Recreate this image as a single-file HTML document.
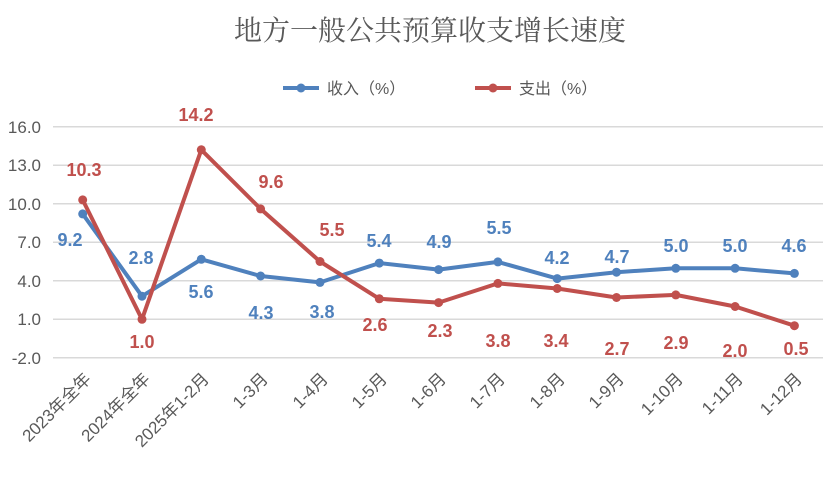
<!DOCTYPE html>
<html><head><meta charset="utf-8"><style>
body{margin:0;background:#fff;width:827px;height:473px;overflow:hidden}
svg text{font-family:"Liberation Sans","Noto Sans CJK SC",sans-serif}
</style></head><body>
<svg width="827" height="473" xmlns="http://www.w3.org/2000/svg">
<text x="430" y="40" text-anchor="middle" font-size="28" fill="#595959" style="font-family:'Noto Serif CJK SC',serif">地方一般公共预算收支增长速度</text>
<line x1="283" y1="88" x2="319" y2="88" stroke="#4f81bd" stroke-width="4"/><circle cx="301" cy="88" r="4.5" fill="#4f81bd"/>
<text x="327" y="94" font-size="16" fill="#595959">收入（%）</text>
<line x1="475" y1="88" x2="511" y2="88" stroke="#c0504d" stroke-width="4"/><circle cx="493" cy="88" r="4.5" fill="#c0504d"/>
<text x="519" y="94" font-size="16" fill="#595959">支出（%）</text>
<g stroke="#d9d9d9" stroke-width="1.5">
<line x1="53" x2="823" y1="126.7" y2="126.7"/><line x1="53" x2="823" y1="165.2" y2="165.2"/><line x1="53" x2="823" y1="203.7" y2="203.7"/><line x1="53" x2="823" y1="242.3" y2="242.3"/><line x1="53" x2="823" y1="280.8" y2="280.8"/><line x1="53" x2="823" y1="319.3" y2="319.3"/><line x1="53" x2="823" y1="357.8" y2="357.8"/>
</g>
<g font-size="17" fill="#595959" text-anchor="end">
<text x="41" y="133">16.0</text><text x="41" y="171">13.0</text><text x="41" y="210">10.0</text><text x="41" y="248">7.0</text><text x="41" y="287">4.0</text><text x="41" y="325">1.0</text><text x="41" y="364">-2.0</text>
</g>
<g font-size="17" fill="#595959" text-anchor="end" font-family="Noto Sans CJK SC, sans-serif">
<text transform="translate(92,380) rotate(-45)">2023年全年</text>
<text transform="translate(151,380) rotate(-45)">2024年全年</text>
<text transform="translate(210,380) rotate(-45)">2025年1-2月</text>
<text transform="translate(269,380) rotate(-45)">1-3月</text>
<text transform="translate(329,380) rotate(-45)">1-4月</text>
<text transform="translate(388,380) rotate(-45)">1-5月</text>
<text transform="translate(447,380) rotate(-45)">1-6月</text>
<text transform="translate(506,380) rotate(-45)">1-7月</text>
<text transform="translate(566,380) rotate(-45)">1-8月</text>
<text transform="translate(625,380) rotate(-45)">1-9月</text>
<text transform="translate(684,380) rotate(-45)">1-10月</text>
<text transform="translate(744,380) rotate(-45)">1-11月</text>
<text transform="translate(803,380) rotate(-45)">1-12月</text>
</g>
<polyline fill="none" stroke="#4f81bd" stroke-width="4" stroke-linejoin="round" points="82.7,213.9 142,296.2 201.3,259.3 260.6,276 320,282.4 379.3,263.1 438.6,269.6 497.9,261.9 557.2,278.6 616.5,272.2 675.8,268.3 735.1,268.3 794.4,273.4"/>
<g fill="#4f81bd"><circle cx="82.7" cy="213.9" r="4.5"/><circle cx="142" cy="296.2" r="4.5"/><circle cx="201.3" cy="259.3" r="4.5"/><circle cx="260.6" cy="276" r="4.5"/><circle cx="320" cy="282.4" r="4.5"/><circle cx="379.3" cy="263.1" r="4.5"/><circle cx="438.6" cy="269.6" r="4.5"/><circle cx="497.9" cy="261.9" r="4.5"/><circle cx="557.2" cy="278.6" r="4.5"/><circle cx="616.5" cy="272.2" r="4.5"/><circle cx="675.8" cy="268.3" r="4.5"/><circle cx="735.1" cy="268.3" r="4.5"/><circle cx="794.4" cy="273.4" r="4.5"/></g>
<polyline fill="none" stroke="#c0504d" stroke-width="4" stroke-linejoin="round" points="82.7,199.9 142,319.3 201.3,149.8 260.6,208.9 320,261.5 379.3,298.8 438.6,302.6 497.9,283.4 557.2,288.5 616.5,297.5 675.8,294.9 735.1,306.5 794.4,325.7"/>
<g fill="#c0504d"><circle cx="82.7" cy="199.9" r="4.5"/><circle cx="142" cy="319.3" r="4.5"/><circle cx="201.3" cy="149.8" r="4.5"/><circle cx="260.6" cy="208.9" r="4.5"/><circle cx="320" cy="261.5" r="4.5"/><circle cx="379.3" cy="298.8" r="4.5"/><circle cx="438.6" cy="302.6" r="4.5"/><circle cx="497.9" cy="283.4" r="4.5"/><circle cx="557.2" cy="288.5" r="4.5"/><circle cx="616.5" cy="297.5" r="4.5"/><circle cx="675.8" cy="294.9" r="4.5"/><circle cx="735.1" cy="306.5" r="4.5"/><circle cx="794.4" cy="325.7" r="4.5"/></g>
<g font-size="18" font-weight="bold" fill="#4f81bd" text-anchor="middle">
<text x="70" y="246">9.2</text><text x="141" y="264">2.8</text><text x="201" y="298">5.6</text><text x="261" y="319">4.3</text><text x="322" y="318">3.8</text><text x="379" y="247">5.4</text><text x="439" y="248">4.9</text><text x="499" y="234">5.5</text><text x="557" y="264">4.2</text><text x="617" y="263">4.7</text><text x="676" y="252">5.0</text><text x="735" y="252">5.0</text><text x="794" y="252">4.6</text>
</g>
<g font-size="18" font-weight="bold" fill="#c0504d" text-anchor="middle">
<text x="84" y="176">10.3</text><text x="142" y="348">1.0</text><text x="196" y="121">14.2</text><text x="271" y="188">9.6</text><text x="332" y="236">5.5</text><text x="375" y="331">2.6</text><text x="440" y="337">2.3</text><text x="498" y="347">3.8</text><text x="556" y="347">3.4</text><text x="617" y="355">2.7</text><text x="676" y="349">2.9</text><text x="735" y="357">2.0</text><text x="796" y="355">0.5</text>
</g>
</svg>
</body></html>
